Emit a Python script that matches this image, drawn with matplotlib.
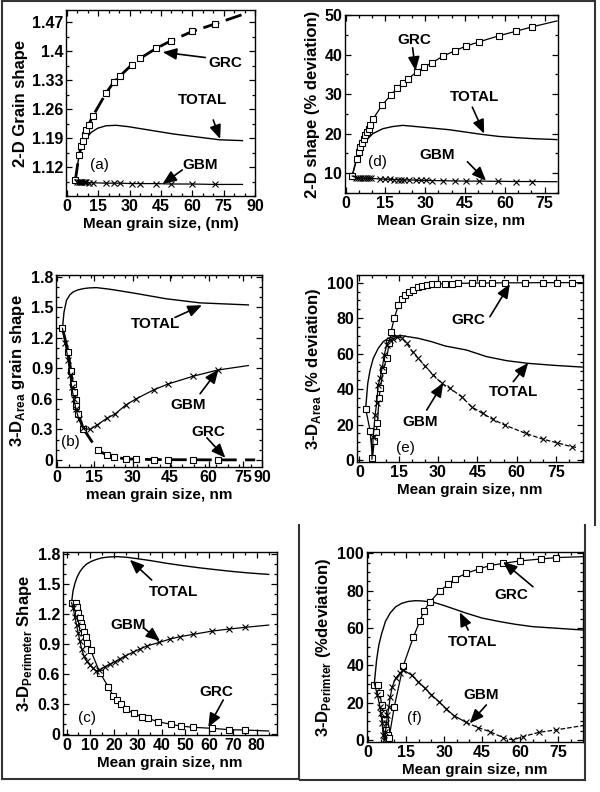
#!/usr/bin/env python3
"""
Grain shape vs mean grain size - six panels (a)-(f): GRC, GBM and TOTAL curves
"""

import matplotlib
matplotlib.use('Agg')
import matplotlib.pyplot as plt
from matplotlib import font_manager
from matplotlib.lines import Line2D
from matplotlib.ticker import AutoMinorLocator, MultipleLocator

# ---------------- panel (a): 2-D grain shape ----------------
a_grc_x = [4.0, 5.7, 6.8, 7.6, 8.4, 9.2, 10.3, 12.4, 18.7, 22.3, 25.5, 30.9, 35.0, 42.6, 49.6, 59.9, 70.7, 84.0]
a_grc_y = [1.089, 1.148, 1.170, 1.183, 1.198, 1.210, 1.222, 1.244, 1.299, 1.325, 1.341, 1.367, 1.383, 1.407, 1.425, 1.448, 1.466, 1.489]
a_total_x = [4.0, 5.0, 6.0, 7.0, 8.0, 9.2, 11.6, 14.7, 18.7, 23.5, 29.0, 40.0, 51.0, 63.6, 73.0, 84.0]
a_total_y = [1.089, 1.125, 1.152, 1.168, 1.180, 1.190, 1.204, 1.214, 1.220, 1.221, 1.218, 1.209, 1.200, 1.192, 1.186, 1.184]
a_gbm_x = [4.0, 5.0, 5.6, 6.2, 6.8, 7.4, 8.0, 8.6, 9.2, 10.3, 12.4, 18.7, 22.3, 25.5, 30.9, 35.0, 42.6, 49.6, 59.9, 70.7, 84.0]
a_gbm_y = [1.089, 1.084, 1.084, 1.083, 1.083, 1.083, 1.083, 1.083, 1.083, 1.082, 1.082, 1.081, 1.081, 1.081,
           1.080, 1.080, 1.080, 1.079, 1.079, 1.078, 1.078]

# ---------------- panel (d): 2-D shape, % deviation ----------------
d_grc_x = [2.5, 4.25, 5.0, 5.6, 6.25, 6.9, 7.5, 8.1, 8.75, 9.4, 10.25, 13.75, 17.1, 19.4, 21.5, 23.4, 26.75,
           29.6, 32.4, 36.75, 41.25, 45.25, 50.25, 57.75, 64.25, 70.25, 79.6]
d_grc_y = [9.3, 13.6, 15.4, 16.7, 17.75, 18.75, 19.6, 20.4, 21.25, 22.3, 23.6, 27.2, 29.8, 31.5, 32.9, 33.75, 35.6,
           36.8, 37.9, 39.6, 41.0, 42.1, 43.2, 44.75, 45.9, 47.0, 48.5]
d_total_x = [2.5, 3.5, 4.5, 5.9, 7.75, 10.25, 14.0, 17.75, 21.5, 26.5, 32.75, 39.0, 45.25, 51.5, 57.75, 64.0, 70.25, 79.6]
d_total_y = [9.3, 12.0, 14.3, 16.25, 18.3, 20.0, 21.25, 21.8, 22.1, 21.8, 21.4, 21.0, 20.4, 19.8, 19.3, 19.0, 18.75, 18.5]
d_gbm_x = [2.5, 4.0, 4.8, 5.6, 6.4, 7.2, 8.0, 8.8, 9.6, 13.1, 15.0, 16.9, 18.4, 19.6, 20.9, 22.1, 23.75, 26.5,
           28.4, 30.25, 32.5, 36.75, 41.1, 45.25, 50.25, 57.5, 64.25, 70.25, 79.6]
d_gbm_y = [9.3, 8.9, 8.8, 8.8, 8.75, 8.75, 8.7, 8.7, 8.7, 8.55, 8.5, 8.45, 8.4, 8.4, 8.35, 8.3, 8.3, 8.25,
           8.2, 8.2, 8.15, 8.1, 8.05, 8.0, 8.0, 7.95, 7.9, 7.9, 7.85]

# ---------------- panel (b): 3-D area grain shape ----------------
b_total_x = [2.35, 3.0, 4.1, 5.5, 7.0, 9.0, 11.5, 14.0, 17.3, 23.2, 33.5, 48.0, 62.8, 84.0]
b_total_y = [1.293, 1.45, 1.567, 1.62, 1.65, 1.67, 1.683, 1.69, 1.693, 1.677, 1.64, 1.583, 1.543, 1.523]
b_grc_x = [2.35, 4.85, 6.0, 6.75, 7.3, 8.1, 8.5, 9.25, 11.5, 17.8, 21.7, 25.0, 30.2, 34.7, 42.6, 48.9, 59.9, 70.5, 87.0]
b_grc_y = [1.293, 1.06, 0.877, 0.75, 0.667, 0.593, 0.533, 0.45, 0.307, 0.093, 0.05, 0.027, 0.01, 0.007,
           0.003, 0.002, 0.001, 0.0, 0.0]
b_gbm_x = [2.35, 3.5, 4.85, 5.6, 6.4, 7.3, 8.3, 9.5, 11.5, 14.4, 17.6, 21.7, 25.4, 30.2, 34.7, 42.6, 48.9, 59.9, 70.5, 84.0]
b_gbm_y = [1.293, 1.15, 0.98, 0.833, 0.72, 0.6, 0.5, 0.4, 0.31, 0.3, 0.343, 0.407, 0.45, 0.54, 0.6, 0.69,
           0.747, 0.823, 0.883, 0.927]
# tick labels of (b) sit where they are printed in the original figure
b_xtick_pos = [0, 16.3, 33.2, 49.6, 66.5, 81.6, 90]

# ---------------- panel (e): 3-D area, % deviation ----------------
e_grc_x = [2.4, 4.1, 5.0, 5.7, 6.35, 6.9, 7.5, 8.0, 9.1, 10.4, 11.4, 12.1, 13.3, 14.9, 16.1, 17.4, 18.9, 20.6,
           22.2, 23.8, 25.7, 27.6, 29.5, 32.7, 35.3, 37.6, 42.9, 46.7, 50.5, 55.5, 63.1, 70.0, 75.4, 81.1, 85.0]
e_grc_y = [29.0, 16.5, 0.9, 10.9, 15.6, 20.7, 34.8, 40.4, 50.8, 57.3, 66.2, 72.4, 79.9, 87.4, 90.6, 93.0, 94.9, 95.9,
           97.4, 98.1, 98.7, 99.1, 99.2, 99.4, 99.5, 99.6, 99.7, 99.8, 99.8, 99.9, 99.9, 100.0, 100.0, 100.0, 100.0]
e_total_x = [2.4, 3.2, 4.1, 5.3, 7.2, 9.1, 11.0, 13.6, 16.1, 18.7, 22.5, 27.6, 32.7, 40.9, 48.5, 56.2, 64.4, 74.0, 85.0]
e_total_y = [29.0, 43.2, 50.8, 57.3, 63.0, 66.7, 68.6, 69.9, 70.1, 69.5, 68.6, 66.7, 64.3, 62.0, 58.3, 56.0, 54.5, 53.4, 52.4]
e_gbm_x = [4.8, 5.3, 6.0, 6.6, 7.2, 7.9, 8.8, 9.5, 10.4, 11.7, 13.0, 14.2, 16.1, 18.0, 20.3, 22.5, 25.0, 28.2,
           31.4, 34.6, 39.0, 42.8, 47.0, 50.8, 55.5, 63.5, 69.9, 75.2, 81.0, 83.0]
e_gbm_y = [0.5, 13.2, 25.4, 32.0, 42.3, 46.0, 52.6, 59.2, 64.8, 67.7, 68.5, 69.3, 68.8, 65.8, 61.0, 57.3, 53.0, 48.0,
           43.2, 40.4, 35.7, 30.0, 26.3, 23.0, 19.7, 15.0, 11.8, 9.8, 7.5, 7.1]

# ---------------- panel (c): 3-D perimeter shape ----------------
c_total_x = [2.1, 2.7, 3.5, 4.5, 5.6, 7.0, 8.4, 10.5, 12.6, 15.0, 18.2, 21.5, 25.3, 30.0, 35.0, 42.0, 49.0,
             56.0, 63.0, 70.0, 77.0, 85.0]
c_total_y = [1.314, 1.43, 1.508, 1.575, 1.625, 1.67, 1.702, 1.73, 1.749, 1.765, 1.774, 1.776, 1.77, 1.755, 1.738,
             1.71, 1.686, 1.664, 1.645, 1.627, 1.612, 1.598]
c_grc_x = [2.1, 3.8, 4.2, 4.9, 5.6, 6.0, 6.7, 7.3, 8.1, 8.7, 10.1, 14.0, 17.5, 19.6, 21.3, 22.9, 25.0, 28.3,
           31.6, 34.1, 38.6, 43.8, 48.0, 53.3, 61.3, 68.4, 75.0, 85.0]
c_grc_y = [1.314, 1.308, 1.268, 1.207, 1.157, 1.107, 1.067, 1.023, 0.967, 0.913, 0.84, 0.612, 0.472, 0.378,
           0.338, 0.294, 0.244, 0.204, 0.17, 0.154, 0.12, 0.094, 0.077, 0.064, 0.054, 0.04, 0.037, 0.027]
c_gbm_x = [2.1, 2.8, 3.5, 4.2, 4.9, 5.6, 6.3, 7.3, 8.4, 9.8, 11.2, 12.5, 13.7, 16.1, 18.2, 20.3, 22.4, 24.6,
           27.8, 30.9, 33.7, 39.0, 43.5, 47.7, 53.3, 61.3, 68.4, 75.0, 85.0]
c_gbm_y = [1.314, 1.257, 1.174, 1.09, 1.01, 0.93, 0.85, 0.78, 0.73, 0.69, 0.655, 0.63, 0.635, 0.672, 0.696,
           0.722, 0.749, 0.779, 0.816, 0.85, 0.88, 0.916, 0.95, 0.973, 0.997, 1.03, 1.05, 1.067, 1.09]

# ---------------- panel (f): 3-D perimeter, % deviation ----------------
f_total_x = [2.4, 3.3, 4.2, 5.3, 6.8, 8.6, 10.8, 13.2, 15.8, 18.4, 21.0, 23.7, 25.7, 30.0, 38.8, 45.0, 52.0,
             58.0, 65.0, 75.0, 84.9]
f_total_y = [30.4, 42.9, 51.0, 57.0, 63.5, 67.9, 71.3, 73.2, 74.2, 74.6, 74.5, 74.1, 73.8, 72.0, 67.9, 65.3, 63.4,
             62.0, 60.7, 59.8, 58.9]
f_grc_x = [2.4, 3.9, 4.6, 5.3, 5.9, 6.6, 6.8, 7.2, 7.9, 8.2, 10.3, 13.8, 17.8, 20.4, 22.0, 24.3, 28.3, 31.6,
           34.2, 38.8, 43.7, 48.0, 53.3, 59.9, 68.4, 74.3, 84.9]
f_grc_y = [29.5, 29.5, 25.0, 18.8, 14.3, 10.7, 8.0, 5.4, 2.7, 0.9, 17.9, 39.6, 55.0, 63.7, 69.1, 73.8, 79.8, 83.4,
           86.3, 89.3, 91.6, 93.4, 94.6, 95.9, 97.0, 97.7, 98.2]
f_gbm_x = [2.4, 3.6, 4.6, 5.0, 5.5, 5.9, 6.3, 6.8, 7.2, 7.6, 8.2, 8.7, 9.5, 10.8, 12.5, 13.8, 17.1, 19.7, 22.4,
           25.0, 28.0, 30.9, 33.9, 38.6, 43.4, 48.0, 53.3, 57.2, 61.2, 67.5, 74.3, 84.9]
f_gbm_y = [30.4, 24.0, 17.9, 14.3, 8.9, 2.7, 0.0, 4.5, 8.9, 13.4, 17.9, 23.2, 28.6, 33.0, 35.7, 37.5, 34.8, 31.3,
           27.7, 24.1, 20.5, 16.6, 13.0, 9.5, 6.6, 4.5, 1.25, 0.0, 1.8, 4.1, 5.4, 7.7]

# ---------------- fonts ----------------
W, H = 600, 792
names = {f.name for f in font_manager.fontManager.ttflist}
if 'Liberation Sans Narrow' in names:
    FONT, FS, FSL, FSY = 'Liberation Sans Narrow', 12.5, 12.5, 13
else:
    FONT, FS, FSL, FSY = 'Liberation Sans', 11.5, 11, 12
plt.rcParams['font.family'] = [FONT, 'DejaVu Sans']
plt.rcParams['mathtext.fontset'] = 'custom'
plt.rcParams['mathtext.rm'] = FONT
plt.rcParams['mathtext.bf'] = FONT + ':bold'

SQ = dict(marker='s', ms=4.3, mfc='white', mec='k', mew=0.8, ls='none')
XM = dict(marker='x', ms=4.3, mec='k', mew=0.8, ls='none', color='k')


def px_axes(fig, left, top, right, bottom):
    return fig.add_axes([left / W, 1 - bottom / H, (right - left) / W, (bottom - top) / H])


def style_axes(ax, xlim, ylim, xticks, xlabels, yticks, ylabels, xlabel, ylabel, xminor, yminor):
    ax.set_xlim(xlim)
    ax.set_ylim(ylim)
    ax.set_xticks(xticks)
    ax.set_xticklabels(xlabels, fontweight='bold')
    ax.set_yticks(yticks)
    ax.set_yticklabels(ylabels, fontweight='bold')
    ax.xaxis.set_minor_locator(xminor)
    ax.yaxis.set_minor_locator(yminor)
    ax.tick_params(which='both', direction='in', top=True, right=True, width=0.9, labelsize=FS)
    ax.tick_params(which='major', length=4, pad=2)
    ax.tick_params(which='minor', length=2)
    for sp in ax.spines.values():
        sp.set_linewidth(1.0)
    ax.set_xlabel(xlabel, fontsize=FSL, fontweight='bold', labelpad=2)
    ax.set_ylabel(ylabel, fontsize=FSY, fontweight='bold', labelpad=3)


def arrow(ax, tail, head):
    ax.annotate('', xy=head, xytext=tail,
                arrowprops=dict(arrowstyle='-|>,head_length=0.6,head_width=0.25', color='k',
                                lw=1.2, shrinkA=0, shrinkB=0, mutation_scale=14))


def label(ax, x, y, s, bold=True):
    ax.text(x, y, s, ha='center', va='center', fontsize=FSL, fontweight='bold' if bold else 'normal')


def series(ax, x, y, mk, ls='-', lw=0.9, split=None, ls2='--', skip_first=False):
    # line through the read points, markers on all but the end point
    if split is None:
        ax.plot(x, y, color='k', lw=lw, ls=ls)
    else:
        ax.plot(x[:split + 1], y[:split + 1], color='k', lw=lw, ls=ls)
        ax.plot(x[split:], y[split:], color='k', lw=lw, ls=ls2)
    s = 1 if skip_first else 0
    ax.plot(x[s:-1], y[s:-1], **mk)


fig = plt.figure(figsize=(6, 7.92), dpi=100)

# ---- (a)
ax = px_axes(fig, 66, 10, 255, 196)
ax.plot(a_total_x, a_total_y, color='k', lw=1.0)
ax.plot(a_grc_x, a_grc_y, color='k', lw=2.0, dashes=(6, 2.5))
ax.plot(a_grc_x[:-1], a_grc_y[:-1], **SQ)
series(ax, a_gbm_x, a_gbm_y, XM, skip_first=True)
style_axes(ax, (-0.5, 90), (1.05, 1.50), [0, 15, 30, 45, 60, 75, 90], ['0', '15', '30', '45', '60', '75', '90'],
           [1.12, 1.19, 1.26, 1.33, 1.40, 1.47], ['1.12', '1.19', '1.26', '1.33', '1.4', '1.47'],
           'Mean grain size, (nm)', '2-D Grain shape', AutoMinorLocator(3), AutoMinorLocator(2))
label(ax, 75.7, 1.372, 'GRC')
arrow(ax, (66.2, 1.385), (45.8, 1.398))
label(ax, 64.8, 1.283, 'TOTAL')
arrow(ax, (70.0, 1.234), (73.3, 1.188))
label(ax, 63.8, 1.125, 'GBM')
arrow(ax, (55.2, 1.113), (45.7, 1.079))
label(ax, 15.7, 1.125, '(a)', bold=False)

# ---- (d)
ax = px_axes(fig, 345, 15, 558, 193)
ax.plot(d_total_x, d_total_y, color='k', lw=1.0)
series(ax, d_grc_x, d_grc_y, SQ)
series(ax, d_gbm_x, d_gbm_y, XM, skip_first=True)
style_axes(ax, (-0.2, 80), (5, 50), [0, 15, 30, 45, 60, 75], ['0', '15', '30', '45', '60', '75'],
           [10, 20, 30, 40, 50], ['10', '20', '30', '40', '50'],
           'Mean Grain size, nm', '2-D shape (% deviation)', AutoMinorLocator(3), AutoMinorLocator(2))
label(ax, 25.9, 43.75, 'GRC')
arrow(ax, (25.25, 41.7), (26.4, 35.9))
label(ax, 48.4, 29.2, 'TOTAL')
arrow(ax, (47.75, 26.7), (52.2, 20.0))
label(ax, 34.6, 14.6, 'GBM')
arrow(ax, (45.9, 12.9), (52.9, 8.1))
label(ax, 12.1, 12.9, '(d)', bold=False)

# ---- (b)
ax = px_axes(fig, 56, 275, 262, 467)
ax.plot(b_total_x, b_total_y, color='k', lw=1.0)
ax.plot(b_grc_x[:9], b_grc_y[:9], color='k', lw=2.0)
ax.plot(b_grc_x[8:], b_grc_y[8:], color='k', lw=2.0, dashes=(6, 3))
ax.plot(b_grc_x[:-1], b_grc_y[:-1], **SQ)
series(ax, b_gbm_x, b_gbm_y, XM, skip_first=True)
style_axes(ax, (-0.5, 90), (-0.07, 1.817), b_xtick_pos, ['0', '15', '30', '45', '60', '75', '90'],
           [0, 0.3, 0.6, 0.9, 1.2, 1.5, 1.8], ['0', '0.3', '0.6', '0.9', '1.2', '1.5', '1.8'],
           'mean grain size, nm', r'3-D$_{\mathbf{Area}}$ grain shape', MultipleLocator(5), AutoMinorLocator(3))
label(ax, 43.0, 1.34, 'TOTAL')
arrow(ax, (51.8, 1.40), (63.6, 1.52))
label(ax, 57.4, 0.54, 'GBM')
arrow(ax, (62.8, 0.65), (70.9, 0.89))
label(ax, 66.5, 0.277, 'GRC')
arrow(ax, (65.8, 0.217), (73.9, 0.02))
label(ax, 5.6, 0.173, '(b)', bold=False)

# ---- (e)
ax = px_axes(fig, 357, 275, 583, 462)
ax.plot(e_total_x, e_total_y, color='k', lw=1.0)
series(ax, e_grc_x, e_grc_y, SQ)
series(ax, e_gbm_x, e_gbm_y, XM, split=11, skip_first=True)
style_axes(ax, (-0.9, 85.3), (-1.1, 104.3), [0, 15, 30, 45, 60, 75], ['0', '15', '30', '45', '60', '75'],
           [0, 20, 40, 60, 80, 100], ['0', '20', '40', '60', '80', '100'],
           'Mean grain size, nm', r'3-D$_{\mathbf{Area}}$ (% deviation)', AutoMinorLocator(3), AutoMinorLocator(4))
label(ax, 41.5, 79.0, 'GRC')
arrow(ax, (49.8, 80.8), (57.4, 99.2))
label(ax, 58.7, 38.5, 'TOTAL')
arrow(ax, (58.7, 44.2), (64.4, 54.8))
label(ax, 23.1, 21.6, 'GBM')
arrow(ax, (25.7, 28.2), (32.0, 43.5))
label(ax, 17.4, 6.6, '(e)', bold=False)

# ---- (c)
ax = px_axes(fig, 63, 552, 277, 735)
ax.plot(c_total_x, c_total_y, color='k', lw=1.0)
series(ax, c_grc_x, c_grc_y, SQ)
series(ax, c_gbm_x, c_gbm_y, XM, skip_first=True)
style_axes(ax, (-1.5, 88.5), (-0.013, 1.823), [0, 10, 20, 30, 40, 50, 60, 70, 80],
           ['0', '10', '20', '30', '40', '50', '60', '70', '80'],
           [0, 0.3, 0.6, 0.9, 1.2, 1.5, 1.8], ['0', '0.3', '0.6', '0.9', '1.2', '1.5', '1.8'],
           'Mean grain size, nm', r'3-D$_{\mathbf{Perimeter}}$ Shape', AutoMinorLocator(2), AutoMinorLocator(3))
label(ax, 44.9, 1.425, 'TOTAL')
arrow(ax, (35.8, 1.542), (26.6, 1.745))
label(ax, 25.9, 1.09, 'GBM')
arrow(ax, (32.5, 1.06), (39.3, 0.93))
label(ax, 63.1, 0.421, 'GRC')
arrow(ax, (65.9, 0.338), (59.6, 0.065))
label(ax, 8.7, 0.16, '(c)', bold=False)

# ---- (f)
ax = px_axes(fig, 367, 552, 583, 742)
ax.plot(f_total_x, f_total_y, color='k', lw=1.0)
series(ax, f_grc_x, f_grc_y, SQ)
series(ax, f_gbm_x, f_gbm_y, XM, split=23, skip_first=True)
style_axes(ax, (-0.5, 84.9), (-1.1, 100.7), [0, 15, 30, 45, 60, 75], ['0', '15', '30', '45', '60', '75'],
           [0, 20, 40, 60, 80, 100], ['0', '20', '40', '60', '80', '100'],
           'Mean grain size, nm', r'3-D$_{\mathbf{Perimter}}$ (%deviation)', AutoMinorLocator(3), AutoMinorLocator(4))
label(ax, 56.6, 77.7, 'GRC')
arrow(ax, (65.1, 82.1), (53.3, 95.5))
label(ax, 41.4, 52.7, 'TOTAL')
arrow(ax, (39.5, 58.9), (36.2, 68.4))
label(ax, 44.7, 24.1, 'GBM')
arrow(ax, (46.7, 18.75), (40.1, 8.9))
label(ax, 18.4, 11.6, '(f)', bold=False)

# ---- scanned frame lines around the panels
frame = [((2, 1), (2, 779)), ((2, 1), (595, 1)), ((595, 1), (595, 525)), ((2, 779), (299, 779)),
         ((299, 525), (299, 779)), ((585, 525), (585, 780)), ((300, 780), (585, 780))]
for (x0, y0), (x1, y1) in frame:
    fig.add_artist(Line2D([x0 / W, x1 / W], [1 - y0 / H, 1 - y1 / H], transform=fig.transFigure,
                          color='#333333', lw=1.5))

fig.savefig('out.png', dpi=100)
